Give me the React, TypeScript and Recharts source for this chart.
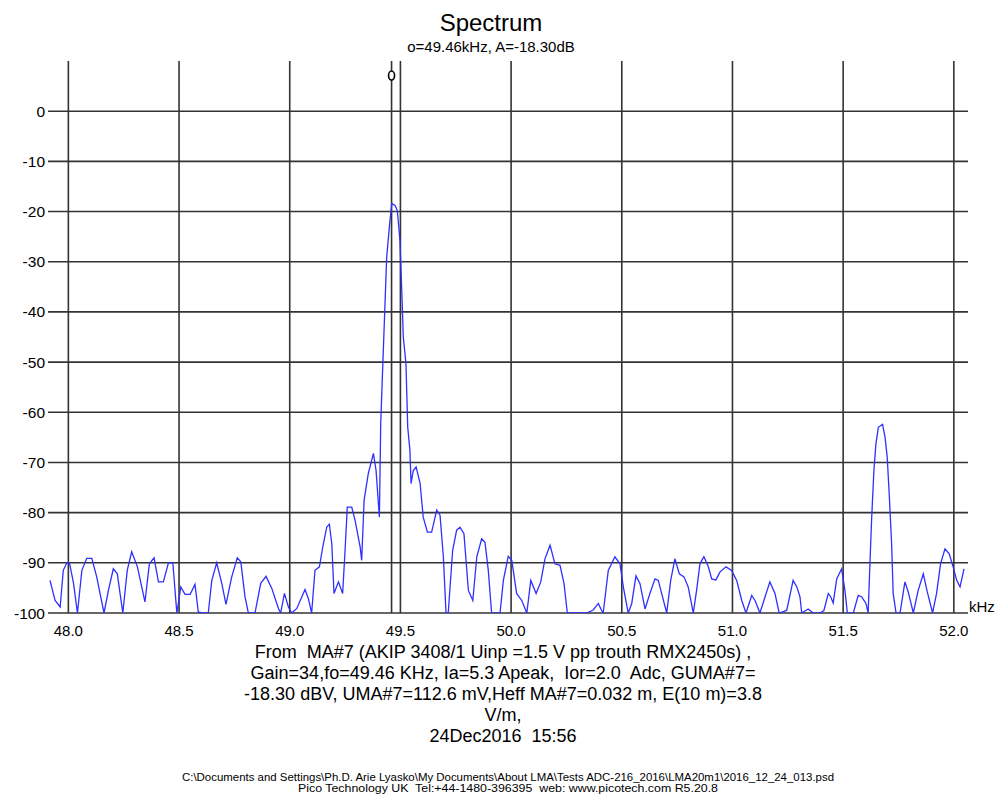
import React from "react";
import {
  LineChart,
  Line,
  XAxis,
  YAxis,
  ReferenceLine,
  ReferenceDot,
} from "recharts";

// spectrum trace (kHz / dB)
const FREQ = [
  47.917, 47.94, 47.963, 47.977, 47.993, 48.005, 48.023, 48.041, 48.061, 48.083,
  48.106, 48.128, 48.161, 48.181, 48.203, 48.221, 48.246, 48.266, 48.286, 48.312,
  48.346, 48.366, 48.387, 48.407, 48.429, 48.452, 48.472, 48.49, 48.508, 48.527,
  48.55, 48.572, 48.587, 48.603, 48.632, 48.648, 48.67, 48.693, 48.712, 48.738,
  48.763, 48.779, 48.798, 48.813, 48.843, 48.869, 48.893, 48.919, 48.949, 48.959,
  48.976, 48.994, 49.009, 49.032, 49.069, 49.084, 49.099, 49.114, 49.134, 49.149,
  49.167, 49.179, 49.19, 49.2, 49.22, 49.239, 49.25, 49.26, 49.28, 49.295,
  49.318, 49.325, 49.336, 49.355, 49.378, 49.39, 49.405, 49.411, 49.42, 49.426,
  49.432, 49.438, 49.45, 49.461, 49.476, 49.486, 49.498, 49.506, 49.513, 49.525,
  49.533, 49.543, 49.548, 49.558, 49.571, 49.589, 49.603, 49.622, 49.641, 49.664,
  49.679, 49.694, 49.706, 49.716, 49.736, 49.754, 49.769, 49.787, 49.807, 49.827,
  49.845, 49.867, 49.882, 49.897, 49.912, 49.95, 49.965, 49.987, 50.003, 50.025,
  50.048, 50.071, 50.089, 50.113, 50.134, 50.153, 50.176, 50.198, 50.221, 50.239,
  50.254, 50.341, 50.371, 50.394, 50.409, 50.416, 50.439, 50.469, 50.492, 50.507,
  50.529, 50.545, 50.564, 50.582, 50.605, 50.627, 50.65, 50.665, 50.68, 50.703,
  50.721, 50.74, 50.76, 50.781, 50.8, 50.823, 50.838, 50.853, 50.871, 50.891,
  50.906, 50.925, 50.944, 50.971, 50.996, 51.019, 51.042, 51.061, 51.087, 51.102,
  51.124, 51.142, 51.169, 51.192, 51.211, 51.245, 51.274, 51.291, 51.305, 51.313,
  51.342, 51.365, 51.395, 51.413, 51.433, 51.444, 51.455, 51.471, 51.493, 51.508,
  51.519, 51.546, 51.568, 51.584, 51.603, 51.613, 51.621, 51.629, 51.639, 51.648,
  51.659, 51.678, 51.689, 51.699, 51.708, 51.719, 51.726, 51.739, 51.757, 51.779,
  51.794, 51.817, 51.839, 51.862, 51.88, 51.904, 51.922, 51.94, 51.96, 51.979,
  51.997, 52.013, 52.028, 52.046,
];

const LEVEL = [
  -93.5, -97.5, -98.8, -91.5, -90.0, -90.0, -94.0, -100, -91.5, -89.1,
  -89.1, -92.8, -100, -95.5, -91.2, -92.2, -100, -91.5, -87.8, -90.8,
  -97.8, -90.2, -89.0, -93.8, -93.8, -90.0, -90.0, -100, -94.8, -96.3,
  -96.3, -94.3, -99.8, -100, -100, -93.5, -90.0, -94.1, -98.3, -92.8,
  -89.0, -89.8, -96.8, -100, -100, -94.1, -92.7, -95.1, -99.1, -100,
  -96.1, -98.8, -100, -99.1, -95.3, -97.1, -100, -91.5, -90.8, -86.9,
  -82.9, -82.3, -86.2, -96.1, -93.8, -96.1, -87.5, -78.9, -78.9, -81.5,
  -86.8, -89.5, -77.5, -72.2, -68.2, -71.6, -80.9, -62.3, -51.0, -43.7,
  -36.4, -29.1, -23.1, -18.4, -18.8, -19.8, -25.8, -35.7, -45.0, -50.3,
  -63.0, -67.6, -74.2, -71.6, -70.9, -74.2, -80.9, -83.9, -83.9, -79.5,
  -80.5, -88.8, -100, -100, -87.5, -83.5, -82.9, -84.2, -95.5, -97.5,
  -88.8, -85.2, -85.9, -91.5, -100, -100, -93.5, -88.7, -89.5, -96.1,
  -97.5, -100, -93.5, -96.1, -93.8, -89.2, -86.5, -90.2, -90.5, -94.1,
  -100, -100, -99.4, -98.1, -99.5, -100, -91.5, -88.8, -90.2, -94.8,
  -100, -98.1, -92.6, -94.1, -99.2, -96.1, -93.2, -93.5, -96.1, -100,
  -93.5, -89.2, -92.2, -92.8, -94.8, -100, -95.5, -90.2, -88.8, -90.8,
  -93.2, -93.4, -91.8, -90.8, -91.5, -93.5, -97.5, -100, -96.5, -97.5,
  -100, -97.5, -93.8, -96.1, -100, -99.5, -93.5, -94.8, -96.8, -100,
  -99.2, -100, -100, -99.5, -96.1, -96.8, -98.0, -93.2, -91.2, -95.5,
  -100, -100, -96.5, -96.8, -98.1, -100, -90.2, -80.9, -71.6, -66.3,
  -63.0, -62.4, -64.9, -68.9, -76.2, -86.2, -96.1, -100, -100, -93.8,
  -95.8, -100, -95.5, -92.2, -95.8, -100, -96.1, -90.2, -87.2, -88.2,
  -90.8, -93.5, -94.8, -91.2,
];

const X_TICKS = [48.0, 48.5, 49.0, 49.5, 50.0, 50.5, 51.0, 51.5, 52.0];
const Y_TICKS = [0, -10, -20, -30, -40, -50, -60, -70, -80, -90, -100];
const X_DOMAIN = [47.908, 52.064];
const Y_DOMAIN = [-100, 10];

const MARKER_FREQ = 49.46;
const MARKER_SYMBOL_LEVEL = 7.1;

const TITLE = "Spectrum";
const SUBTITLE = "o=49.46kHz, A=-18.30dB";
const NOTES = [
  "From  MA#7 (AKIP 3408/1 Uinp =1.5 V pp trouth RMX2450s) ,",
  "Gain=34,fo=49.46 KHz, Ia=5.3 Apeak,  Ior=2.0  Adc, GUMA#7=",
  "-18.30 dBV, UMA#7=112.6 mV,Heff MA#7=0.032 m, E(10 m)=3.8",
  "V/m,",
  "24Dec2016  15:56",
];
const FOOTER = [
  "C:\\Documents and Settings\\Ph.D. Arie Lyasko\\My Documents\\About LMA\\Tests ADC-216_2016\\LMA20m1\\2016_12_24_013.psd",
  "Pico Technology UK  Tel:+44-1480-396395  web: www.picotech.com R5.20.8",
];
const FOOTER_WIDTHS = [652, 420];

const data = FREQ.map((f, i) => ({ f, v: LEVEL[i] }));

const FONT = "'Liberation Sans', Arial, sans-serif";
const GRID = "#333";

function MarkerSymbol(props: any) {
  const { cx, cy } = props;
  return <ellipse cx={cx} cy={cy} rx={3} ry={4.5} fill="#fff" stroke="#000" strokeWidth={1.6} />;
}

export default function App() {
  return (
    <div style={{ position: "relative", width: 1003, height: 798, background: "#fff", fontFamily: FONT }}>
      <style>{`body{margin:0}`}</style>
      <LineChart
        width={1003}
        height={798}
        data={data}
        margin={{ top: 61, right: 35, bottom: 0, left: 0 }}
      >
        <XAxis
          dataKey="f"
          type="number"
          domain={X_DOMAIN}
          ticks={X_TICKS}
          allowDataOverflow
          height={185}
          axisLine={false}
          tickLine={false}
          tickSize={0}
          tickMargin={12}
          tickFormatter={(v: number) => v.toFixed(1)}
          tick={{ fill: "#000", fontSize: 15, fontFamily: FONT }}
        />
        <YAxis
          type="number"
          domain={Y_DOMAIN}
          ticks={Y_TICKS}
          allowDataOverflow
          width={48}
          axisLine={false}
          tickLine={false}
          tickSize={0}
          tickMargin={3}
          tick={{ fill: "#000", fontSize: 15.5, fontFamily: FONT }}
        />
        {X_TICKS.map((t) => (
          <ReferenceLine key={`x${t}`} x={t} stroke={GRID} strokeWidth={1.6} />
        ))}
        {Y_TICKS.map((t) => (
          <ReferenceLine key={`y${t}`} y={t} stroke={GRID} strokeWidth={1.6} />
        ))}
        <ReferenceLine x={MARKER_FREQ} stroke={GRID} strokeWidth={1.6} />
        <ReferenceDot x={MARKER_FREQ} y={MARKER_SYMBOL_LEVEL} shape={<MarkerSymbol />} />
        <Line
          dataKey="v"
          type="linear"
          stroke="#2f2fff"
          strokeWidth={1.3}
          dot={false}
          isAnimationActive={false}
        />
      </LineChart>
      <svg
        width={1003}
        height={798}
        style={{ position: "absolute", left: 0, top: 0, pointerEvents: "none" }}
        fontFamily={FONT}
      >
        <text x={491} y={31} textAnchor="middle" fontSize={24} fill="#000">
          {TITLE}
        </text>
        <text x={491} y={52} textAnchor="middle" fontSize={15} fill="#000">
          {SUBTITLE}
        </text>
        <text x={969} y={612} fontSize={15} fill="#000">
          kHz
        </text>
        {NOTES.map((line, i) => (
          <text
            key={i}
            x={503}
            y={658 + i * 21}
            textAnchor="middle"
            fontSize={18}
            fill="#000"
            style={{ whiteSpace: "pre" }}
          >
            {line}
          </text>
        ))}
        {FOOTER.map((line, i) => (
          <text
            key={i}
            x={508}
            y={781 + i * 11}
            textAnchor="middle"
            fontSize={10}
            fill="#000"
            textLength={FOOTER_WIDTHS[i]}
            lengthAdjust="spacingAndGlyphs"
            style={{ whiteSpace: "pre" }}
          >
            {line}
          </text>
        ))}
      </svg>
    </div>
  );
}
